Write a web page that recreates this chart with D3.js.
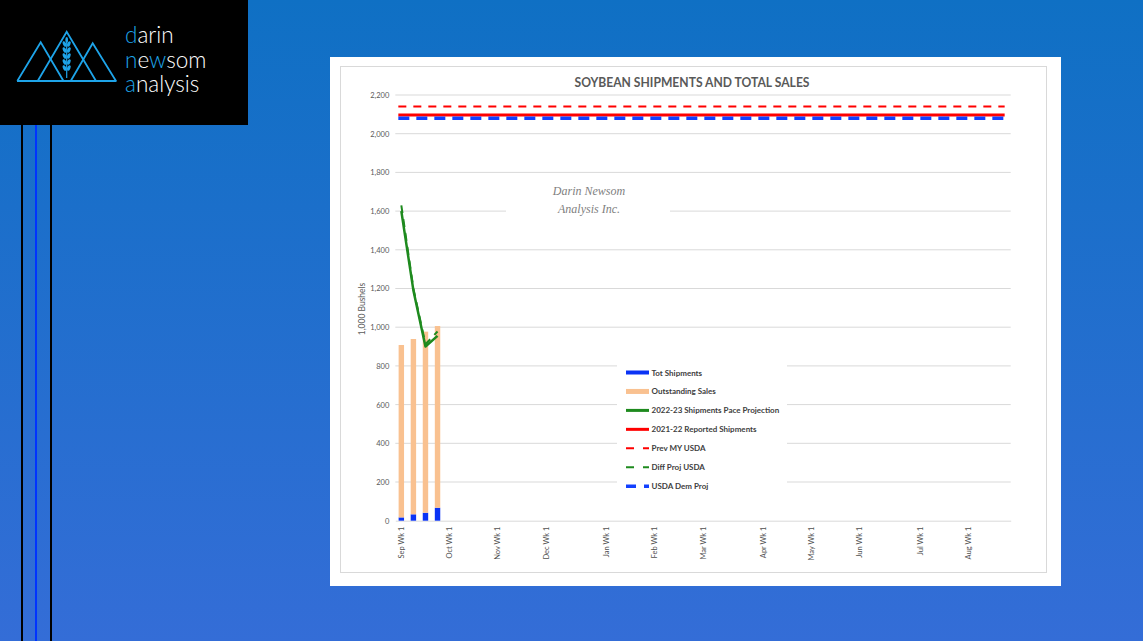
<!DOCTYPE html>
<html>
<head>
<meta charset="utf-8">
<script src="https://cdn.jsdelivr.net/npm/d3@7"></script>
<style>
  html, body { margin: 0; padding: 0; overflow: hidden; }
  svg { display: block; }
</style>
</head>
<body>
<svg id="chart" width="1143" height="641"></svg>
<script>
// ---------- DATA ----------
const months = ["Sep", "Oct", "Nov", "Dec", "Jan", "Feb", "Mar", "Apr", "May", "Jun", "Jul", "Aug"];
const weeksPerMonth = [4, 4, 4, 5, 4, 4, 5, 4, 4, 5, 4, 4];
const yTicks = [0, 200, 400, 600, 800, 1000, 1200, 1400, 1600, 1800, 2000, 2200];

// weekly series (first four weeks reported)
const totShipments = [17, 33, 41, 67];
const outstandingSales = [891, 906, 936, 939];
const paceProjection = [1600, 1190, 900, 955];
const diffProjUSDA = [1630, 1200, 912, 978];

// flat reference levels
const reported2122 = 2097;
const prevMYUSDA = 2140;
const usdaDemProj = 2080;

const legendItems = [
  { label: "Tot Shipments", type: "bar", color: "#0a33f5", h: 4 },
  { label: "Outstanding Sales", type: "bar", color: "#f9c190", h: 5 },
  { label: "2022-23 Shipments Pace Projection", type: "line", color: "#1e8a1e", w: 3, dash: null },
  { label: "2021-22 Reported Shipments", type: "line", color: "#ff0000", w: 3, dash: null },
  { label: "Prev MY USDA", type: "line", color: "#ff0000", w: 2, dash: "8,9" },
  { label: "Diff Proj USDA", type: "line", color: "#1e8a1e", w: 2, dash: "8,9" },
  { label: "USDA Dem Proj", type: "line", color: "#1240ff", w: 3.5, dash: "10,8" }
];

// week categories built from months table
const weeks = [];
months.forEach((m, i) => {
  for (let w = 1; w <= weeksPerMonth[i]; w++) weeks.push(m + " Wk " + w);
});

// ---------- DRAW ----------
const svg = d3.select("#chart");
const defs = svg.append("defs");
const grad = defs.append("linearGradient").attr("id", "bg").attr("x1", 0).attr("y1", 0).attr("x2", 0).attr("y2", 1);
grad.append("stop").attr("offset", "0%").attr("stop-color", "#0f70c4");
grad.append("stop").attr("offset", "100%").attr("stop-color", "#346dd7");
svg.append("rect").attr("width", 1143).attr("height", 641).attr("fill", "url(#bg)");

// left decorative lines
svg.append("rect").attr("x", 21).attr("y", 120).attr("width", 2).attr("height", 521).attr("fill", "#000");
svg.append("rect").attr("x", 35).attr("y", 120).attr("width", 2).attr("height", 521).attr("fill", "#0033ff");
svg.append("rect").attr("x", 50).attr("y", 120).attr("width", 2).attr("height", 521).attr("fill", "#000");

// logo block
const logo = svg.append("g");
logo.append("rect").attr("x", 0).attr("y", 0).attr("width", 248).attr("height", 125).attr("fill", "#000");
const lc = "#1ea4e9";
const tri = [
  [[17.3, 81], [40.7, 42.3], [63.5, 81]],
  [[37.7, 81], [66.7, 31.7], [96, 81]],
  [[70.7, 81], [92.7, 43.3], [116, 81]]
];
tri.forEach(t => {
  logo.append("path").attr("d", d3.line()(t)).attr("fill", "none").attr("stroke", lc).attr("stroke-width", 1.8).attr("stroke-linejoin", "miter");
});
logo.append("line").attr("x1", 17).attr("x2", 116.5).attr("y1", 81).attr("y2", 81).attr("stroke", lc).attr("stroke-width", 1.8);
// wheat stalk
logo.append("line").attr("x1", 66.7).attr("x2", 66.7).attr("y1", 40).attr("y2", 78).attr("stroke", lc).attr("stroke-width", 1.2);
[44, 50, 56, 62, 68].forEach(yy => {
  logo.append("ellipse").attr("cx", 64.6).attr("cy", yy).attr("rx", 1.6).attr("ry", 3).attr("fill", lc).attr("transform", `rotate(-25,64.6,${yy})`);
  logo.append("ellipse").attr("cx", 68.8).attr("cy", yy).attr("rx", 1.6).attr("ry", 3).attr("fill", lc).attr("transform", `rotate(25,68.8,${yy})`);
});
logo.append("ellipse").attr("cx", 66.7).attr("cy", 40).attr("rx", 1.4).attr("ry", 3).attr("fill", lc);

const logoFont = "Lato, 'Open Sans', sans-serif";
function logoWord(y, parts) {
  const t = logo.append("text").attr("x", 125).attr("y", y).attr("font-family", logoFont).attr("font-weight", 300).attr("font-size", 22.5);
  parts.forEach(p => t.append("tspan").text(p[0]).attr("fill", p[1] ? lc : "#ffffff"));
}
logoWord(42.7, [["d", 1], ["arin", 0]]);
logoWord(67.7, [["n", 1], ["e", 0], ["w", 1], ["som", 0]]);
logoWord(91.7, [["a", 1], ["nalysis", 0]]);

// chart panel
svg.append("rect").attr("x", 330).attr("y", 57).attr("width", 731).attr("height", 529).attr("fill", "#ffffff");
svg.append("rect").attr("x", 340.5).attr("y", 66.5).attr("width", 706).attr("height", 506).attr("fill", "none").attr("stroke", "#d9d9d9").attr("stroke-width", 1);

const font = "Lato, 'Open Sans', sans-serif";
const txt = "#595959";

svg.append("text").attr("x", 692).attr("y", 87).attr("text-anchor", "middle")
  .attr("font-family", font).attr("font-weight", 700).attr("font-size", 13.5).attr("fill", txt)
  .attr("textLength", 235).attr("lengthAdjust", "spacingAndGlyphs")
  .text("SOYBEAN SHIPMENTS AND TOTAL SALES");

const x = d3.scaleBand().domain(weeks).range([395.3, 1010.7]).paddingInner(0.55).paddingOuter(0.275);
const y = d3.scaleLinear().domain([0, 2200]).range([520.7, 95]);
const cx = d => x(d) + x.bandwidth() / 2;

// gridlines
svg.append("g").selectAll("line").data(yTicks.filter(d => d > 0)).join("line")
  .attr("x1", 395.3).attr("x2", 1010.7).attr("y1", d => y(d)).attr("y2", d => y(d))
  .attr("stroke", "#d9d9d9").attr("stroke-width", 1);

// y axis labels
const yAxis = svg.append("g").attr("transform", "translate(395.3,0)")
  .call(d3.axisLeft(y).tickValues(yTicks).tickFormat(d3.format(",")).tickSize(0).tickPadding(6));
yAxis.select(".domain").remove();
yAxis.selectAll("text").attr("font-family", font).attr("font-size", 7.5).attr("fill", txt);

svg.append("text").attr("transform", "translate(365,309) rotate(-90)").attr("text-anchor", "middle")
  .attr("font-family", font).attr("font-size", 8.5).attr("fill", txt).text("1,000 Bushels");

// x axis
const xAxis = svg.append("g").attr("transform", "translate(0,520.7)")
  .call(d3.axisBottom(x).tickValues(weeks.filter(w => w.endsWith("Wk 1"))).tickSize(0).tickPadding(0));
xAxis.select(".domain").attr("stroke", "#d9d9d9");
xAxis.selectAll("text").attr("font-family", font).attr("font-size", 7.5).attr("fill", "#505050")
  .attr("text-anchor", "end").attr("dy", null)
  .attr("transform", "translate(0,6) rotate(-90)").attr("x", 0).attr("y", 0).attr("dominant-baseline", "central");

// stacked bars
const wk = weeks.slice(0, totShipments.length);
svg.append("g").selectAll("rect").data(wk).join("rect")
  .attr("x", d => x(d)).attr("width", x.bandwidth())
  .attr("y", (d, i) => y(totShipments[i])).attr("height", (d, i) => y(0) - y(totShipments[i]))
  .attr("fill", "#0a33f5");
svg.append("g").selectAll("rect").data(wk).join("rect")
  .attr("x", d => x(d)).attr("width", x.bandwidth())
  .attr("y", (d, i) => y(totShipments[i] + outstandingSales[i]))
  .attr("height", (d, i) => y(totShipments[i]) - y(totShipments[i] + outstandingSales[i]))
  .attr("fill", "#f9c190");

// watermark
svg.append("rect").attr("x", 506).attr("y", 178).attr("width", 164).attr("height", 42).attr("fill", "#ffffff");
svg.append("text").attr("x", 589).attr("y", 194.5).attr("text-anchor", "middle")
  .attr("font-family", "'Liberation Serif', serif").attr("font-style", "italic").attr("font-size", 12).attr("fill", "#808080")
  .text("Darin Newsom");
svg.append("text").attr("x", 589).attr("y", 213).attr("text-anchor", "middle")
  .attr("font-family", "'Liberation Serif', serif").attr("font-style", "italic").attr("font-size", 12).attr("fill", "#808080")
  .text("Analysis Inc.");

// flat lines
const xFirst = cx(weeks[0]), xLast = cx(weeks[weeks.length - 1]);
function flat(v, color, w, dash) {
  svg.append("line").attr("x1", xFirst - 3).attr("x2", xLast).attr("y1", y(v)).attr("y2", y(v))
    .attr("stroke", color).attr("stroke-width", w).attr("stroke-dasharray", dash);
}
flat(prevMYUSDA, "#ff0000", 2, "8,7");
flat(reported2122, "#ff0000", 3, null);
flat(usdaDemProj, "#1240ff", 3.5, "11,7");

// green projection lines
const line = d3.line().x((d, i) => cx(weeks[i])).y(d => y(d));
svg.append("path").datum(paceProjection).attr("d", line).attr("fill", "none")
  .attr("stroke", "#1e8a1e").attr("stroke-width", 2.5).attr("stroke-linejoin", "round");
svg.append("path").datum(diffProjUSDA).attr("d", line).attr("fill", "none")
  .attr("stroke", "#1e8a1e").attr("stroke-width", 2).attr("stroke-dasharray", "8,6");

// legend
svg.append("rect").attr("x", 617).attr("y", 361).attr("width", 170).attr("height", 134).attr("fill", "#ffffff");
const lg = svg.append("g").selectAll("g").data(legendItems).join("g")
  .attr("transform", (d, i) => `translate(0,${372.5 + i * 18.95})`);
lg.each(function(d) {
  const g = d3.select(this);
  if (d.type === "bar") {
    g.append("rect").attr("x", 626).attr("y", -d.h / 2).attr("width", 23).attr("height", d.h).attr("fill", d.color);
  } else {
    g.append("line").attr("x1", 626).attr("x2", 649).attr("y1", 0).attr("y2", 0)
      .attr("stroke", d.color).attr("stroke-width", d.w).attr("stroke-dasharray", d.dash);
  }
  g.append("text").attr("x", 651.5).attr("y", 0).attr("dominant-baseline", "central")
    .attr("font-family", font).attr("font-weight", 700).attr("font-size", 8).attr("fill", "#404040")
    .text(d.label);
});
</script>
</body>
</html>
